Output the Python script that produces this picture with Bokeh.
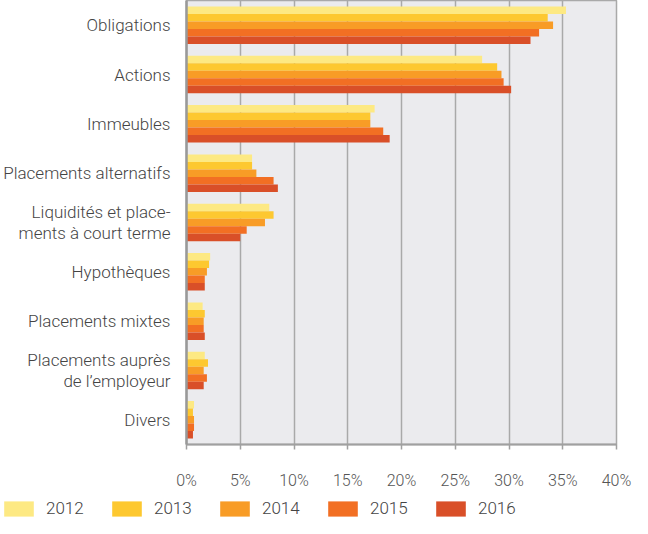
from bokeh.plotting import figure
from bokeh.models import FactorRange, Legend, LegendItem, NumeralTickFormatter, FixedTicker, ColumnDataSource
from bokeh.layouts import column
from bokeh.transform import dodge
from bokeh.embed import file_html
from bokeh.resources import INLINE

categories = ["Obligations", "Actions", "Immeubles", "Placements alternatifs",
              "Liquidités et place-\nments à court terme", "Hypothèques",
              "Placements mixtes", "Placements auprès\nde l’employeur", "Divers"]
years = ["2012", "2013", "2014", "2015", "2016"]
v2012 = [35.3, 27.5, 17.5, 6.1, 7.7, 2.2, 1.5, 1.7, 0.7]
v2013 = [33.6, 28.9, 17.1, 6.1, 8.1, 2.1, 1.7, 2.0, 0.6]
v2014 = [34.1, 29.3, 17.1, 6.5, 7.3, 1.9, 1.6, 1.6, 0.7]
v2015 = [32.8, 29.5, 18.3, 8.1, 5.6, 1.7, 1.6, 1.9, 0.7]
v2016 = [32.0, 30.2, 18.9, 8.5, 5.0, 1.7, 1.7, 1.6, 0.6]
colors = ["#FDE983", "#FDC830", "#F89C26", "#F26F23", "#D94F28"]
xticks = [0, 0.05, 0.10, 0.15, 0.20, 0.25, 0.30, 0.35, 0.40]

src = ColumnDataSource(dict(cat=categories,
                            y2012=[v / 100 for v in v2012],
                            y2013=[v / 100 for v in v2013],
                            y2014=[v / 100 for v in v2014],
                            y2015=[v / 100 for v in v2015],
                            y2016=[v / 100 for v in v2016]))

FONT = "Roboto Light"

p = figure(width=632, height=492, output_backend="svg", toolbar_location=None,
           y_range=FactorRange(*reversed(categories)), x_range=(0, 0.40),
           min_border_left=184, min_border_right=16, min_border_top=0, min_border_bottom=48)
p.background_fill_color = "#EBEBEE"
p.outline_line_color = "#A9A9A9"
p.outline_line_width = 1.5

bh = 0.152
offsets = [2 * bh, bh, 0, -bh, -2 * bh]
cols = ["y2012", "y2013", "y2014", "y2015", "y2016"]
for col, off, c in zip(cols, offsets, colors):
    p.hbar(y=dodge("cat", off, range=p.y_range), right=col, left=0, height=bh,
           source=src, fill_color=c, line_color=None)

p.ygrid.grid_line_color = None
p.xgrid.grid_line_color = "#A9A9A9"
p.xgrid.grid_line_width = 1.5
p.xaxis.ticker = FixedTicker(ticks=xticks)
p.xaxis.formatter = NumeralTickFormatter(format="0%")
p.xaxis.axis_line_color = "#A0A0A0"
p.xaxis.axis_line_width = 2
p.xaxis.major_tick_line_color = "#A0A0A0"
p.xaxis.major_tick_line_width = 1.5
p.xaxis.major_tick_out = 5
p.xaxis.major_tick_in = 0
p.xaxis.minor_tick_line_color = None
p.xaxis.major_label_standoff = 21
p.xaxis.major_label_text_font = FONT
p.xaxis.major_label_text_font_size = "16px"
p.xaxis.major_label_text_color = "#555555"

p.yaxis.axis_line_color = "#999999"
p.yaxis.axis_line_width = 2.5
p.yaxis.major_tick_line_color = None
p.yaxis.minor_tick_line_color = None
p.yaxis.major_label_standoff = 10
p.yaxis.major_label_text_font = FONT
p.yaxis.major_label_text_font_size = "17px"
p.yaxis.major_label_text_color = "#444444"
p.yaxis.major_label_text_line_height = 1.05

# legend in its own strip below the chart
lf = figure(width=632, height=26, output_backend="svg", toolbar_location=None,
            min_border=0, x_range=(0, 1), y_range=(0, 1))
lf.frame_align = False
lf.axis.visible = False
lf.grid.visible = False
lf.outline_line_color = None
lrs = []
for y, c in zip(years, colors):
    r = lf.hbar(y=[-10], right=[1], left=0, height=1, fill_color=c, line_color=None)
    lrs.append(r)
items = [LegendItem(label=y, renderers=[r]) for y, r in zip(years, lrs)]
legend = Legend(items=items, orientation="horizontal", location=(0, 0),
                glyph_width=37, glyph_height=19, label_standoff=9, spacing=12,
                label_width=50, label_height=19, padding=0, margin=0,
                label_text_font=FONT, label_text_font_size="17px",
                label_text_color="#444444", background_fill_alpha=0,
                border_line_color=None)
lf.add_layout(legend, "center")

layout = column(p, lf, spacing=0)
open("out.html", "w").write(file_html(layout, INLINE))
